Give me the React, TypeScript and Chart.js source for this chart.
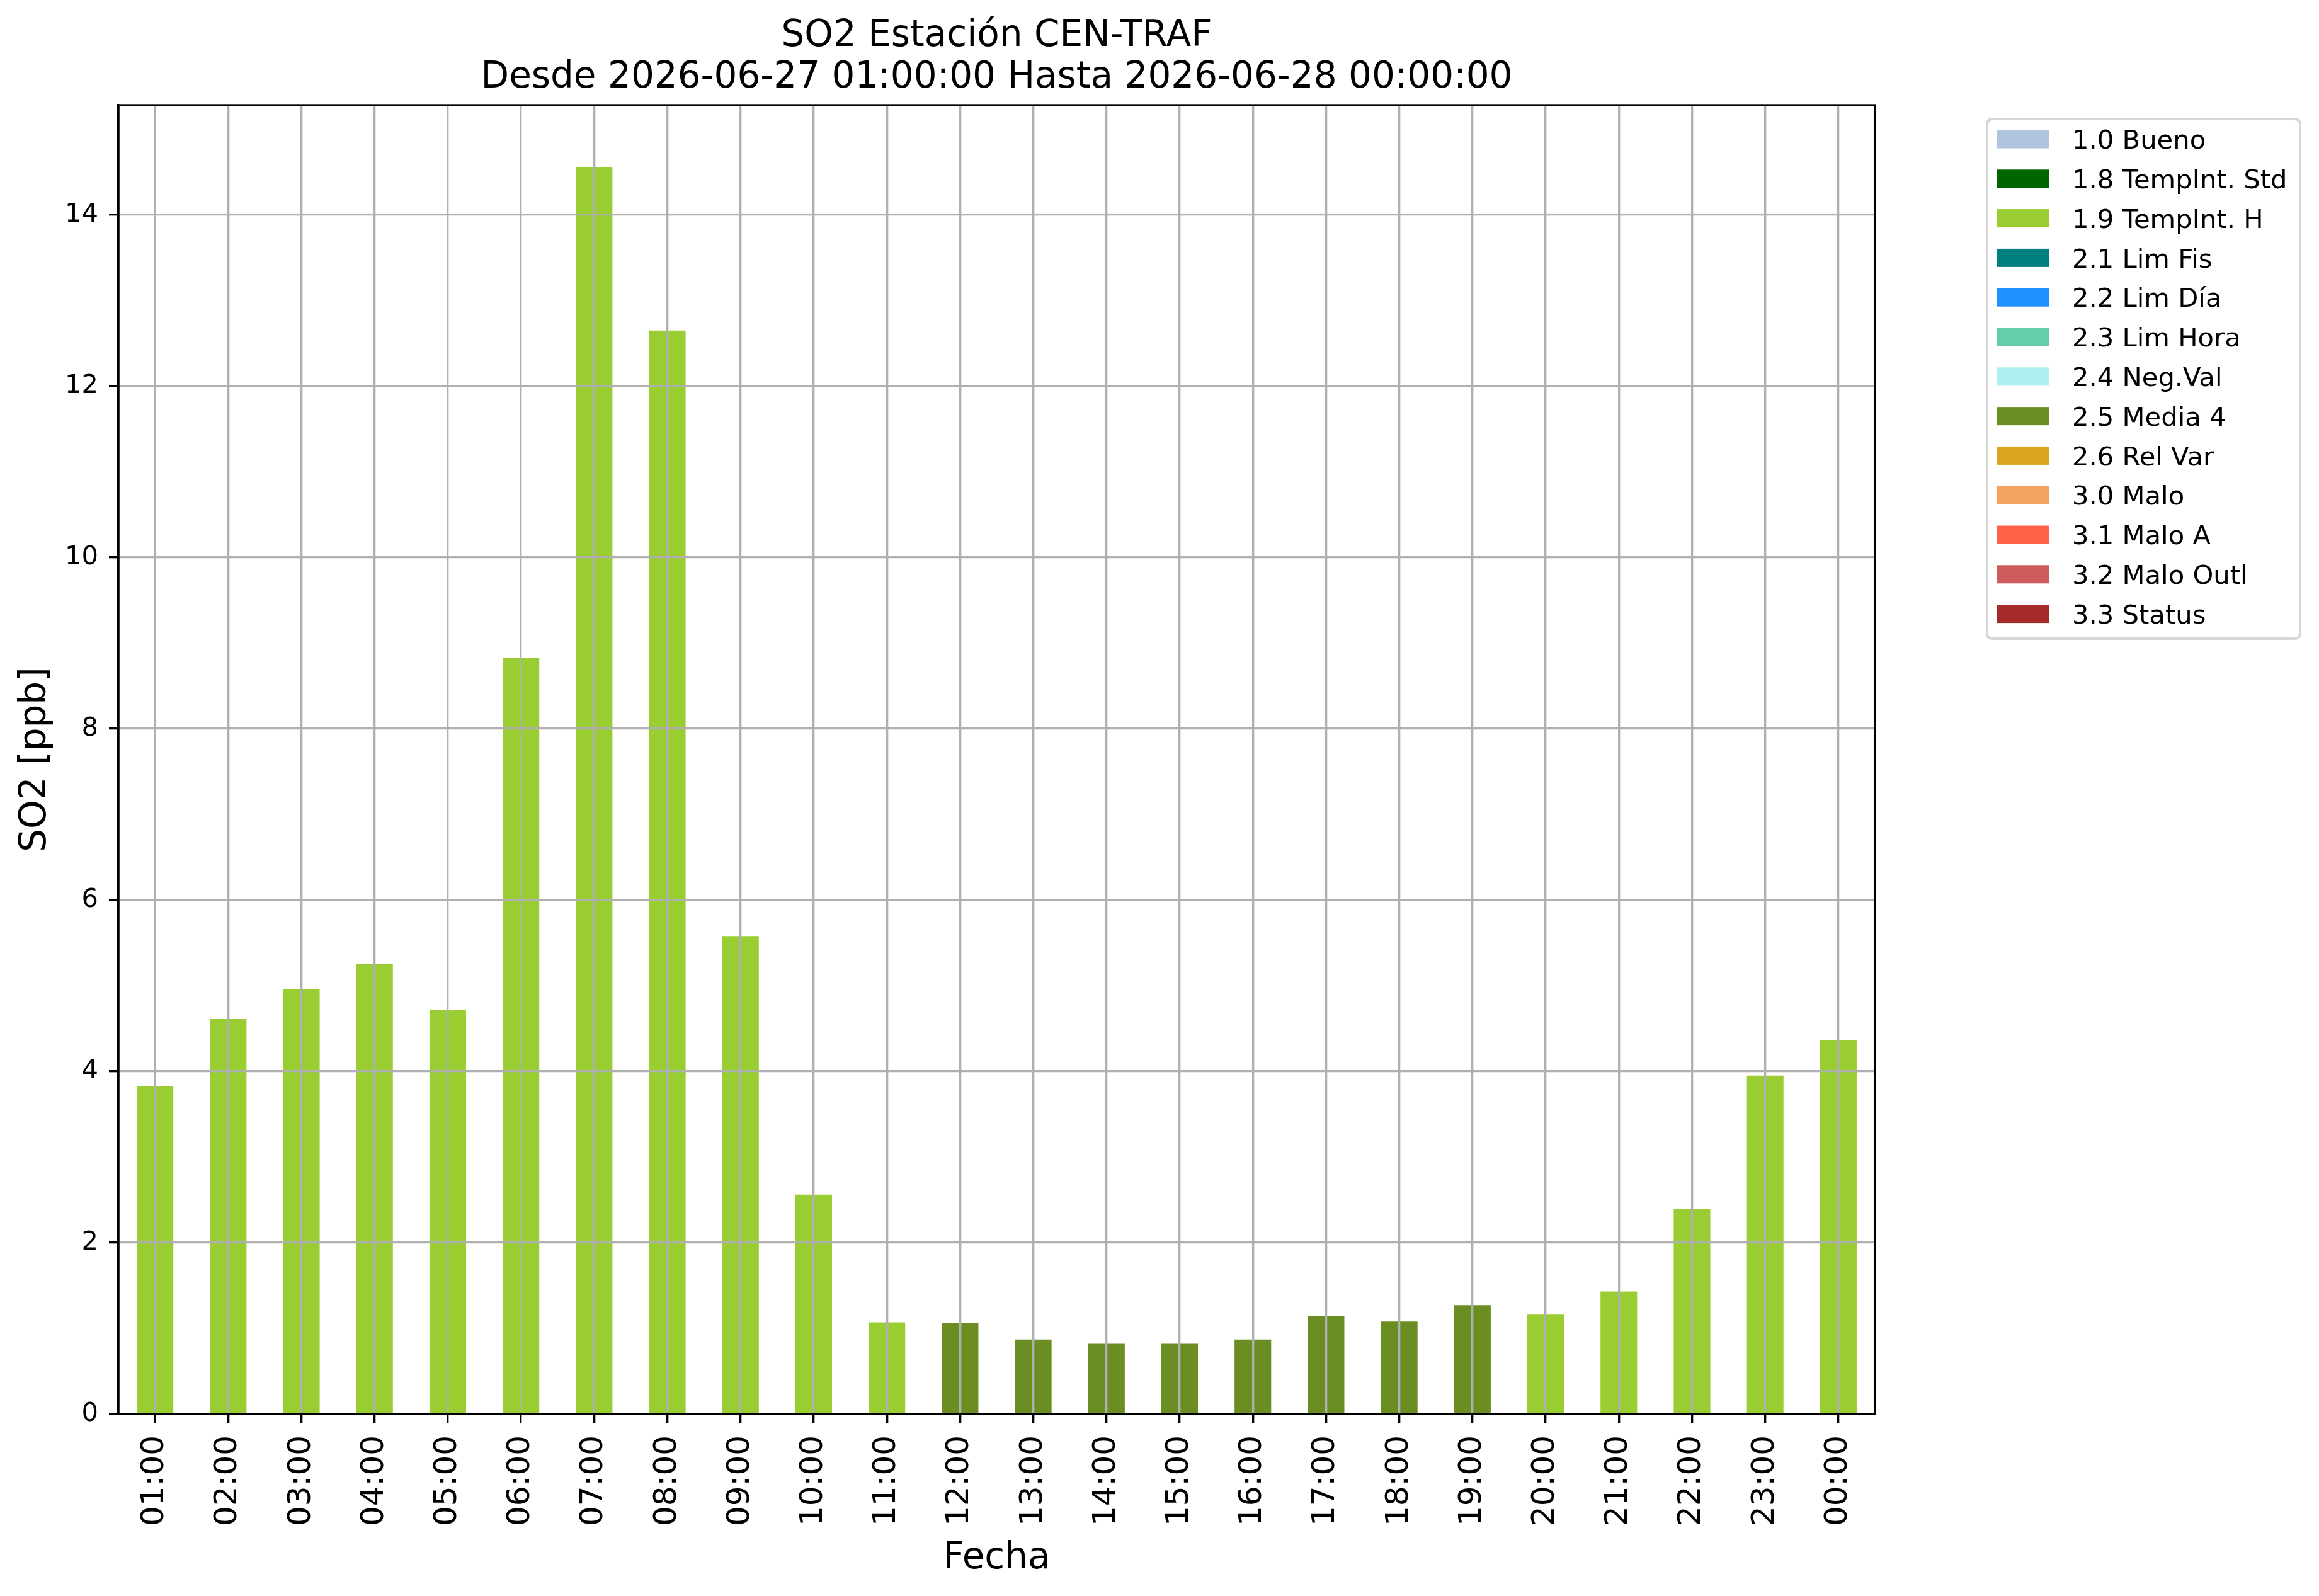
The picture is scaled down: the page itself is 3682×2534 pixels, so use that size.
import { useEffect, useRef } from 'react';
import { Chart, registerables } from 'chart.js';

Chart.register(...registerables);

const HOURS = [
  '01:00', '02:00', '03:00', '04:00', '05:00', '06:00', '07:00', '08:00',
  '09:00', '10:00', '11:00', '12:00', '13:00', '14:00', '15:00', '16:00',
  '17:00', '18:00', '19:00', '20:00', '21:00', '22:00', '23:00', '00:00',
];

const SO2_PPB = [
  3.83, 4.61, 4.96, 5.25, 4.72, 8.83, 14.56, 12.65,
  5.58, 2.56, 1.07, 1.06, 0.87, 0.82, 0.82, 0.87,
  1.14, 1.08, 1.27, 1.16, 1.43, 2.39, 3.95, 4.36,
];

const HOUR_FLAGS = [
  '1.9 TempInt. H', '1.9 TempInt. H', '1.9 TempInt. H', '1.9 TempInt. H',
  '1.9 TempInt. H', '1.9 TempInt. H', '1.9 TempInt. H', '1.9 TempInt. H',
  '1.9 TempInt. H', '1.9 TempInt. H', '1.9 TempInt. H', '2.5 Media 4',
  '2.5 Media 4', '2.5 Media 4', '2.5 Media 4', '2.5 Media 4',
  '2.5 Media 4', '2.5 Media 4', '2.5 Media 4', '1.9 TempInt. H',
  '1.9 TempInt. H', '1.9 TempInt. H', '1.9 TempInt. H', '1.9 TempInt. H',
];

const FLAG_LABELS = [
  '1.0 Bueno', '1.8 TempInt. Std', '1.9 TempInt. H', '2.1 Lim Fis',
  '2.2 Lim Día', '2.3 Lim Hora', '2.4 Neg.Val', '2.5 Media 4',
  '2.6 Rel Var', '3.0 Malo', '3.1 Malo A', '3.2 Malo Outl', '3.3 Status',
];

const FLAG_COLORS = [
  '#b0c4de', '#006400', '#9acd32', '#008080',
  '#1e90ff', '#66cdaa', '#afeeee', '#6b8e23',
  '#daa520', '#f4a460', '#ff6347', '#cd5c5c', '#a52a2a',
];

const Y_TICKS = [0, 2, 4, 6, 8, 10, 12, 14];
const Y_MAX = 15.28;

const TITLE_LINES = ['SO2 Estación CEN-TRAF', 'Desde 2026-06-27 01:00:00 Hasta 2026-06-28 00:00:00'];
const X_TITLE = 'Fecha';
const Y_TITLE = 'SO2 [ppb]';

const W = 3682;
const H = 2534;
const FONT = "'DejaVu Sans'";

const framePlugin = {
  id: 'axesFrame',
  afterDraw(chart: any) {
    const { ctx, chartArea } = chart;
    ctx.save();
    ctx.strokeStyle = '#000';
    ctx.lineWidth = 3.33;
    ctx.strokeRect(chartArea.left, chartArea.top, chartArea.right - chartArea.left, chartArea.bottom - chartArea.top);
    ctx.restore();
  },
};

const boxLegendPlugin = {
  id: 'boxLegend',
  afterDraw(chart: any) {
    const { ctx, chartArea } = chart;
    const left = chartArea.right + 178;
    const top = chartArea.top + 22;
    const w = 497;
    const h = 825;
    const r = 9;
    ctx.save();
    ctx.beginPath();
    ctx.moveTo(left + r, top);
    ctx.lineTo(left + w - r, top);
    ctx.quadraticCurveTo(left + w, top, left + w, top + r);
    ctx.lineTo(left + w, top + h - r);
    ctx.quadraticCurveTo(left + w, top + h, left + w - r, top + h);
    ctx.lineTo(left + r, top + h);
    ctx.quadraticCurveTo(left, top + h, left, top + h - r);
    ctx.lineTo(left, top + r);
    ctx.quadraticCurveTo(left, top, left + r, top);
    ctx.closePath();
    ctx.fillStyle = 'rgba(255,255,255,0.8)';
    ctx.fill();
    ctx.strokeStyle = '#d6d6d6';
    ctx.lineWidth = 4;
    ctx.stroke();
    ctx.font = `41.7px ${FONT}`;
    ctx.textAlign = 'left';
    ctx.textBaseline = 'alphabetic';
    chart.data.datasets.forEach((ds: any, i: number) => {
      const cy = top + 32 + i * 62.8;
      ctx.fillStyle = ds.backgroundColor;
      ctx.fillRect(left + 15, cy - 14.5, 84, 29);
      ctx.fillStyle = '#000';
      ctx.fillText(ds.label, left + 135, cy + 15.2);
    });
    ctx.restore();
  },
};

export default function App() {
  const canvasRef = useRef<HTMLCanvasElement | null>(null);

  useEffect(() => {
    document.body.style.margin = '0';
    const canvas = canvasRef.current;
    if (!canvas) return;

    const datasets = FLAG_LABELS.map((label, k) => ({
      label,
      backgroundColor: FLAG_COLORS[k],
      borderWidth: 0,
      barPercentage: 0.5,
      categoryPercentage: 1.0,
      data: SO2_PPB.map((v, i) => (HOUR_FLAGS[i] === label ? v : null)),
    }));

    const chart = new Chart(canvas, {
      type: 'bar',
      data: { labels: HOURS, datasets },
      plugins: [framePlugin, boxLegendPlugin],
      options: {
        animation: false,
        responsive: false,
        devicePixelRatio: 1,
        events: [],
        color: '#000',
        layout: { padding: { left: 0, right: 705, top: 0, bottom: 0 } },
        plugins: {
          legend: { display: false },
          tooltip: { enabled: false },
          title: {
            display: true,
            text: TITLE_LINES,
            color: '#000',
            fullSize: false,
            font: { family: FONT, size: 58, weight: 'normal', lineHeight: 1.138 },
            padding: { top: 25, bottom: 10 },
          },
        },
        scales: {
          x: {
            stacked: true,
            offset: true,
            afterFit: (scale: any) => { scale.height = 289; },
            grid: {
              display: true,
              offset: false,
              color: '#b0b0b0',
              lineWidth: 3.33,
              drawTicks: true,
              tickLength: 15,
              tickColor: '#000',
              tickWidth: 3.33,
              z: 1,
            },
            border: { display: true, color: '#000', width: 3.33, z: 2 },
            ticks: {
              autoSkip: false,
              minRotation: 90,
              maxRotation: 90,
              padding: 19,
              color: '#000',
              font: { family: FONT, size: 50 },
            },
            title: {
              display: true,
              text: X_TITLE,
              color: '#000',
              font: { family: FONT, size: 58, lineHeight: 1.2 },
              padding: { top: 0, bottom: 24 },
            },
          },
          y: {
            stacked: true,
            min: 0,
            max: Y_MAX,
            afterFit: (scale: any) => { scale.width = 188; },
            afterBuildTicks: (scale: any) => { scale.ticks = Y_TICKS.map((v) => ({ value: v })); },
            grid: {
              display: true,
              color: '#b0b0b0',
              lineWidth: 3.33,
              drawTicks: true,
              tickLength: 15,
              tickColor: '#000',
              tickWidth: 3.33,
              z: 1,
            },
            border: { display: true, color: '#000', width: 3.33, z: 2 },
            ticks: {
              padding: 17,
              color: '#000',
              font: { family: FONT, size: 41.7 },
            },
            title: {
              display: true,
              text: Y_TITLE,
              color: '#000',
              font: { family: FONT, size: 58, lineHeight: 1.2 },
              padding: { top: 22, bottom: 0 },
            },
          },
        },
      } as any,
    });

    return () => { chart.destroy(); };
  }, []);

  return (
    <div style={{ width: W, height: H, background: '#fff' }}>
      <canvas ref={canvasRef} width={W} height={H} style={{ display: 'block', width: W, height: H }} />
    </div>
  );
}
